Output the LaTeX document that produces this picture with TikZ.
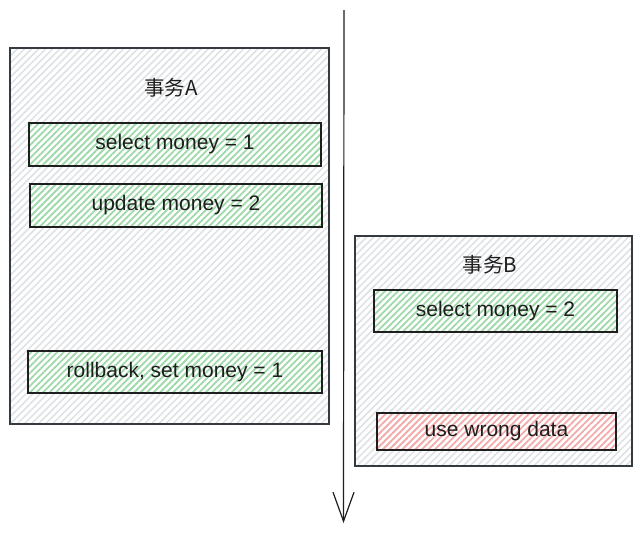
\documentclass[tikz,border=0pt]{standalone}
\usepackage{fontspec}
\setmainfont{Liberation Sans}
\newfontfamily\cjkfont{Noto Sans CJK SC}
\usetikzlibrary{patterns.meta,arrows.meta}
\definecolor{ink}{HTML}{1E1E1E}
\definecolor{panelink}{HTML}{343A40}
\definecolor{greyhatch}{HTML}{DEE1E4}
\definecolor{greenhatch}{HTML}{9ED9AA}
\definecolor{redhatch}{HTML}{F5AAAA}
\begin{document}
\begin{tikzpicture}[x=1pt,y=-1pt,
  greyfill/.style={pattern={Lines[angle=45,distance=5pt,line width=1.5pt]}},
  colourfill/.style={pattern={Lines[angle=45,distance=4.6pt,line width=1.8pt]}},
  panel/.style={draw=panelink, line width=1.3pt, preaction={fill=white}, greyfill, pattern color=greyhatch, inner sep=0pt},
  stepbox/.style={draw=ink, line width=1.3pt, preaction={fill=white}, colourfill, pattern color=greenhatch, inner sep=0pt, text=ink, font=\fontsize{21}{25}\selectfont},
  badbox/.style={stepbox, pattern color=redhatch},
  title/.style={text=ink, font=\cjkfont\fontsize{20.5}{24}\selectfont, inner sep=0pt},
  timeline/.style={draw=ink, line width=1.2pt, -{Straight Barb[length=29pt,width=21pt]}}
]
\useasboundingbox (0,0) rectangle (641,533);
\fill[white] (0,0) rectangle (641,533);

% panel A
\node[panel, minimum width=319pt, minimum height=376pt] (pa) at (169.5,236) {};
\node[title] (ta) at (171,88) {事务A};
\node[stepbox, minimum width=292pt, minimum height=43pt] (a1) at (175,144.5) {select money = 1};
\node[stepbox, minimum width=292pt, minimum height=43pt] (a2) at (176,205.5) {update money = 2};
\node[stepbox, minimum width=294pt, minimum height=42pt] (a3) at (175,372) {rollback, set money = 1};

% panel B
\node[panel, minimum width=277pt, minimum height=230pt] (pb) at (493.5,351) {};
\node[title] (tb) at (490,265) {事务B};
\node[stepbox, minimum width=243pt, minimum height=42pt] (b1) at (495.5,311) {select money = 2};
\node[badbox, minimum width=239pt, minimum height=37pt] (b2) at (496.5,431.5) {use wrong data};

% time axis
\coordinate (t0) at (344,10);
\coordinate (t1) at (343.5,523);
\draw[timeline] (t0) -- (t1);
\end{tikzpicture}
\end{document}
